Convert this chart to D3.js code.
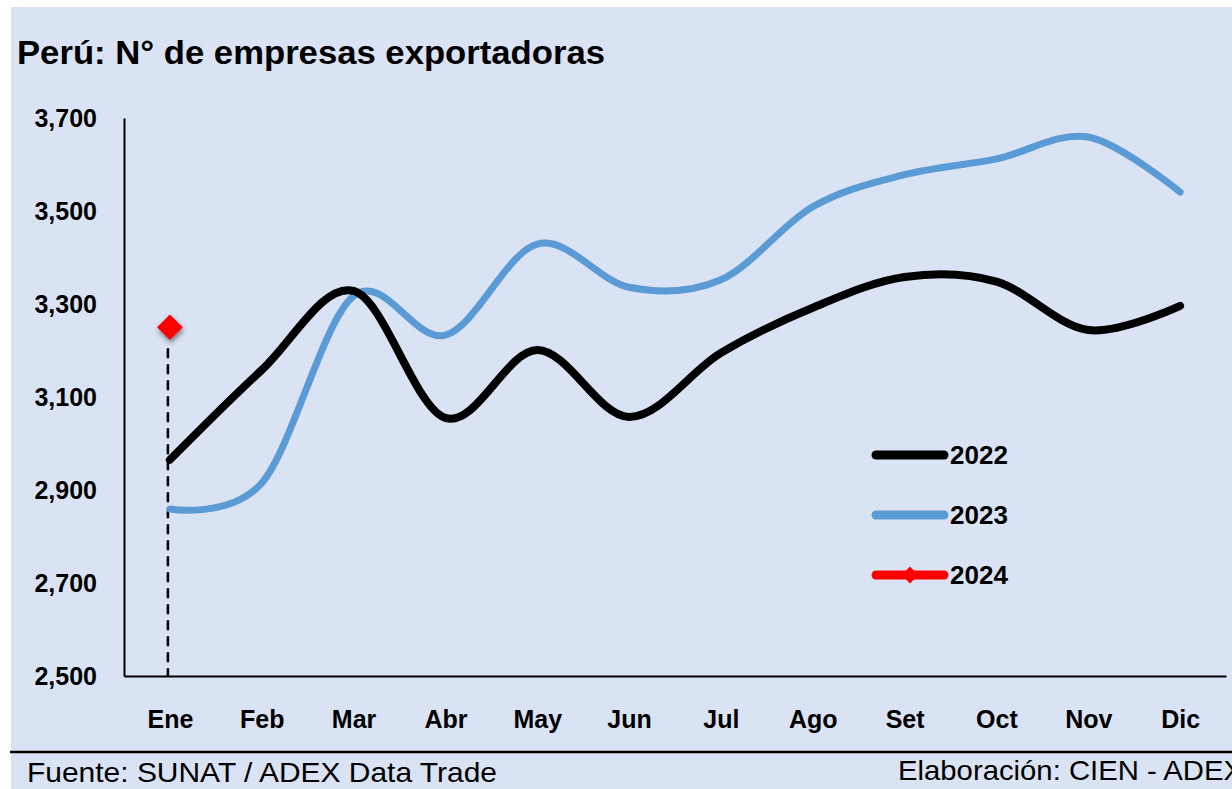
<!DOCTYPE html>
<html>
<head>
<meta charset="utf-8">
<script src="https://cdn.jsdelivr.net/npm/d3@7"></script>
<style>
  body { margin: 0; background: #ffffff; }
  svg { display: block; }
  .tick text { font-family: "Liberation Sans", Arial, sans-serif; font-weight: bold; fill: #000; }
</style>
</head>
<body>
<svg id="chart" width="1232" height="789"></svg>
<script>
// Data
var months = ["Ene", "Feb", "Mar", "Abr", "May", "Jun", "Jul", "Ago", "Set", "Oct", "Nov", "Dic"];
var values2022 = [2965, 3158, 3328, 3055, 3201, 3057, 3195, 3292, 3358, 3348, 3244, 3296];
var values2023 = [2859, 2915, 3317, 3233, 3429, 3336, 3352, 3509, 3578, 3612, 3659, 3541];
var values2024 = [3250];
var yTicks = [2500, 2700, 2900, 3100, 3300, 3500, 3700];
var seriesNames = ["2022", "2023", "2024"];

var style = {
    background: "#dae3f3",
    black: "#000000",
    blue: "#5b9bd5",
    red: "#ff0000",
    font: "Liberation Sans, Arial, sans-serif",
    plotLeft: 124,
    plotRight: 1226,
    plotTop: 118,
    plotBottom: 676
};

var svg = d3.select("#chart");

// shadow for the 2024 marker
var defs = svg.append("defs");
var shadow = defs.append("filter").attr("id", "shadow")
    .attr("x", "-60%").attr("y", "-60%").attr("width", "220%").attr("height", "220%");
shadow.append("feDropShadow")
    .attr("dx", 1).attr("dy", 3).attr("stdDeviation", 2.5)
    .attr("flood-color", "#333").attr("flood-opacity", 0.6);

// background panel
svg.append("rect")
    .attr("x", 11).attr("y", 7)
    .attr("width", 1232 - 11).attr("height", 789 - 7)
    .attr("fill", style.background);

// title
svg.append("text")
    .attr("x", 17).attr("y", 64)
    .attr("font-family", style.font)
    .attr("font-weight", "bold")
    .attr("font-size", 34)
    .attr("textLength", 588)
    .attr("lengthAdjust", "spacingAndGlyphs")
    .attr("fill", "#000")
    .text("Perú: N° de empresas exportadoras");

// scales
var x = d3.scalePoint()
    .domain(months)
    .range([style.plotLeft, style.plotRight])
    .padding(0.5);

var y = d3.scaleLinear()
    .domain([2500, 3700])
    .range([style.plotBottom, style.plotTop]);

// axes
var yAxis = d3.axisLeft(y)
    .tickValues(yTicks)
    .tickSize(0)
    .tickPadding(27)
    .tickFormat(d3.format(","));

var yG = svg.append("g")
    .attr("transform", "translate(" + style.plotLeft + ",0)")
    .call(yAxis);
yG.select(".domain").attr("stroke", "#000").attr("stroke-width", 2);
yG.selectAll(".tick text").attr("font-size", 25);

var xAxis = d3.axisBottom(x)
    .tickSize(0)
    .tickPadding(34);

var xG = svg.append("g")
    .attr("transform", "translate(0," + style.plotBottom + ")")
    .call(xAxis);
xG.select(".domain").attr("stroke", "#000").attr("stroke-width", 2);
xG.selectAll(".tick text").attr("font-size", 25);

// lines
var line = d3.line()
    .x(function(d, i) { return x(months[i]); })
    .y(function(d) { return y(d); })
    .curve(d3.curveCardinal.tension(0));

// dashed drop line for 2024
svg.append("line")
    .attr("x1", x(months[0]) - 2).attr("x2", x(months[0]) - 2)
    .attr("y1", y(values2024[0]) + 21).attr("y2", style.plotBottom)
    .attr("stroke", "#000")
    .attr("stroke-width", 2.5)
    .attr("stroke-dasharray", "10,6");

svg.append("path")
    .datum(values2023)
    .attr("d", line)
    .attr("fill", "none")
    .attr("stroke", style.blue)
    .attr("stroke-width", 7)
    .attr("stroke-linecap", "round");

svg.append("path")
    .datum(values2022)
    .attr("d", line)
    .attr("fill", "none")
    .attr("stroke", style.black)
    .attr("stroke-width", 8)
    .attr("stroke-linecap", "round");

var diamond = d3.symbol().type(d3.symbolDiamond2);

svg.selectAll(".pt2024")
    .data(values2024)
    .enter().append("path")
    .attr("class", "pt2024")
    .attr("d", diamond.size(420))
    .attr("transform", function(d, i) {
        return "translate(" + x(months[i]) + "," + y(d) + ")";
    })
    .attr("fill", style.red)
    .attr("filter", "url(#shadow)");

// legend
var legendColors = [style.black, style.blue, style.red];
var legend = svg.append("g");
var legendItem = legend.selectAll("g")
    .data(seriesNames)
    .enter().append("g")
    .attr("transform", function(d, i) { return "translate(876," + (455 + i * 60) + ")"; });

legendItem.append("line")
    .attr("x1", 0).attr("x2", 68)
    .attr("y1", 0).attr("y2", 0)
    .attr("stroke", function(d, i) { return legendColors[i]; })
    .attr("stroke-width", 9)
    .attr("stroke-linecap", "round");

legendItem.filter(function(d, i) { return i == 2; })
    .append("path")
    .attr("d", d3.symbol().type(d3.symbolDiamond2).size(180))
    .attr("transform", "translate(34,0)")
    .attr("fill", style.red);

legendItem.append("text")
    .attr("x", 74).attr("y", 0)
    .attr("dy", "0.36em")
    .attr("font-family", style.font)
    .attr("font-weight", "bold")
    .attr("font-size", 26)
    .attr("fill", "#000")
    .text(function(d) { return d; });

// footer
svg.append("line")
    .attr("x1", 10).attr("x2", 1232)
    .attr("y1", 752).attr("y2", 752)
    .attr("stroke", "#000")
    .attr("stroke-width", 2.5);

svg.append("text")
    .attr("x", 27).attr("y", 782)
    .attr("font-family", style.font)
    .attr("font-size", 28)
    .attr("textLength", 470)
    .attr("lengthAdjust", "spacingAndGlyphs")
    .attr("fill", "#000")
    .text("Fuente: SUNAT / ADEX Data Trade");

svg.append("text")
    .attr("x", 898).attr("y", 780)
    .attr("font-family", style.font)
    .attr("font-size", 28)
    .attr("textLength", 345)
    .attr("lengthAdjust", "spacingAndGlyphs")
    .attr("fill", "#000")
    .text("Elaboración: CIEN - ADEX");
</script>
</body>
</html>
